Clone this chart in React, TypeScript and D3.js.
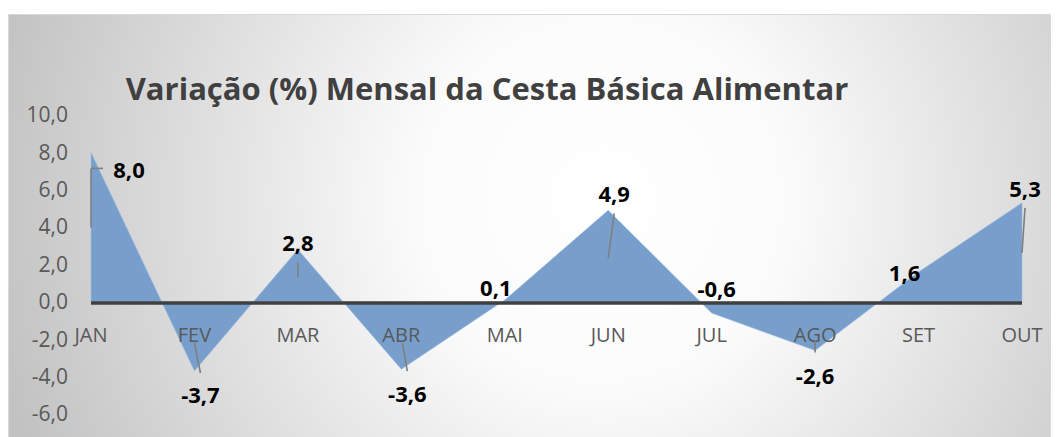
import React, { useRef, useEffect } from 'react';
import * as d3 from 'd3';

const W = 1060;
const H = 437;

const months = ['JAN', 'FEV', 'MAR', 'ABR', 'MAI', 'JUN', 'JUL', 'AGO', 'SET', 'OUT'];
const values = [8.0, -3.7, 2.8, -3.6, 0.1, 4.9, -0.6, -2.6, 1.6, 5.3];
const yTicks = [-6, -4, -2, 0, 2, 4, 6, 8, 10];
const title = 'Variação (%) Mensal da Cesta Básica Alimentar';

// label placement (pixels from the point), as dragged by hand in the original
const labelOffsets: [number, number][] = [
  [38, 18], [6, 24], [0, -6], [6, 25], [-9, -12],
  [6, -16], [5, -24], [0, 26], [-14, 1], [3, -14],
];
// leader lines (pixels from the point); null = none
const leaders: ([number, number, number, number][] | null)[] = [
  [[0, 16, 0, 75], [0, 16, 12, 16]],
  [[0, -28, 6, 2]],
  [[0, 13, 0, 28]],
  [[1, -26, 6, 2]],
  null,
  [[6, 3, 0, 48]],
  null,
  [[0, -10, 0, 2]],
  null,
  [[3, 5, 0, 50]],
];

const FONT = '"Open Sans", "Liberation Sans", sans-serif';
const fmt = (d: number) => d3.format('.1f')(d).replace('.', ',').replace('−', '-');

export default function App() {
  const svgRef = useRef<SVGSVGElement>(null);

  useEffect(() => {
    const svg = d3.select(svgRef.current);
    svg.selectAll('*').remove();

    // background with radial gradient
    const defs = svg.append('defs');
    const grad = defs.append('radialGradient')
      .attr('id', 'bg').attr('cx', '0.57').attr('cy', '0.42').attr('r', '0.6')
      .attr('gradientTransform', 'translate(0.57,0.42) scale(1,2.4) translate(-0.57,-0.42)');
    grad.append('stop').attr('offset', '0%').attr('stop-color', '#ffffff');
    grad.append('stop').attr('offset', '30%').attr('stop-color', '#fbfbfb');
    grad.append('stop').attr('offset', '100%').attr('stop-color', '#c2c2c2');

    svg.append('rect').attr('width', W).attr('height', H).attr('fill', '#ffffff');
    svg.append('rect')
      .attr('x', 8.5).attr('y', 14.5).attr('width', 1042).attr('height', 440)
      .attr('fill', 'url(#bg)').attr('stroke', '#d9d9d9').attr('stroke-width', 1);

    const x = d3.scalePoint<string>().domain(months).range([91, 1022]).padding(0);
    const y = d3.scaleLinear().domain([-6, 10]).range([414, 115]);

    // title
    svg.append('text')
      .attr('x', 487).attr('y', 100)
      .attr('text-anchor', 'middle')
      .attr('font-family', FONT).attr('font-weight', 700).attr('font-size', 31)
      .attr('fill', '#404040')
      .text(title);

    // y axis labels
    svg.append('g').selectAll('text').data(yTicks).join('text')
      .attr('x', 68).attr('y', d => y(d)).attr('dy', '0.35em')
      .attr('text-anchor', 'end')
      .attr('font-family', FONT).attr('font-size', 21).attr('fill', '#595959')
      .text(d => fmt(d));

    // area
    const area = d3.area<number>()
      .x((_, i) => x(months[i]) as number)
      .y0(y(0))
      .y1(d => y(d));
    svg.append('path').datum(values).attr('d', area)
      .attr('fill', '#789fcc')
      .attr('stroke', '#9fbbe0').attr('stroke-width', 1).attr('stroke-opacity', 0.6);

    // category axis line
    svg.append('line')
      .attr('x1', x(months[0]) as number).attr('x2', x(months[months.length - 1]) as number)
      .attr('y1', y(0) + 1).attr('y2', y(0) + 1)
      .attr('stroke', '#404040').attr('stroke-width', 3.5);

    // category labels
    svg.append('g').selectAll('text').data(months).join('text')
      .attr('x', d => x(d) as number).attr('y', y(0) + 33).attr('dy', '0.35em')
      .attr('text-anchor', 'middle')
      .attr('font-family', FONT).attr('font-size', 20).attr('fill', '#595959')
      .text(d => d);

    // leader lines
    const lg = svg.append('g');
    values.forEach((v, i) => {
      const segs = leaders[i];
      if (!segs) return;
      const px = x(months[i]) as number;
      const py = y(v);
      segs.forEach(s => {
        lg.append('line')
          .attr('x1', px + s[0]).attr('y1', py + s[1])
          .attr('x2', px + s[2]).attr('y2', py + s[3])
          .attr('stroke', '#7f7f7f').attr('stroke-width', 1.6);
      });
    });

    // data labels
    svg.append('g').selectAll('text').data(values).join('text')
      .attr('x', (_, i) => (x(months[i]) as number) + labelOffsets[i][0])
      .attr('y', (d, i) => y(d) + labelOffsets[i][1])
      .attr('dy', '0.35em')
      .attr('text-anchor', 'middle')
      .attr('font-family', FONT).attr('font-weight', 700).attr('font-size', 22)
      .attr('fill', '#000000')
      .text(d => fmt(d));
  }, []);

  return (
    <div style={{ position: 'absolute', left: 0, top: 0 }}>
      <svg ref={svgRef} width={W} height={H} style={{ display: 'block' }} />
    </div>
  );
}
